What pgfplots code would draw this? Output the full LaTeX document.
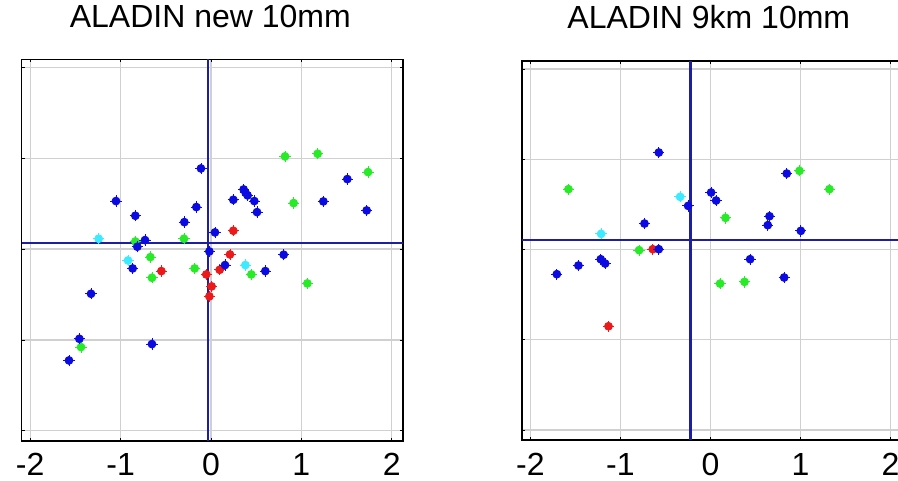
\documentclass[border=0pt]{standalone}
\usepackage{pgfplots}
\pgfplotsset{compat=1.18}
\usepackage{pgfplotstable}
\usepackage{fontspec}
\setmainfont{Liberation Sans}

\definecolor{ptblue}{RGB}{10,10,225}
\definecolor{ptgreen}{RGB}{40,235,40}
\definecolor{ptcyan}{RGB}{60,235,255}
\definecolor{ptred}{RGB}{235,25,25}
\definecolor{navyline}{RGB}{30,30,160}
\definecolor{gridgray}{RGB}{208,208,208}

% filled dot with a small cross through it
\pgfdeclareplotmark{dotplus}{%
  \pgfpathcircle{\pgfpoint{0pt}{0pt}}{\pgfplotmarksize}%
  \pgfusepathqfillstroke
  \pgfpathmoveto{\pgfpoint{-1.45\pgfplotmarksize}{0pt}}%
  \pgfpathlineto{\pgfpoint{1.45\pgfplotmarksize}{0pt}}%
  \pgfpathmoveto{\pgfpoint{0pt}{-1.45\pgfplotmarksize}}%
  \pgfpathlineto{\pgfpoint{0pt}{1.45\pgfplotmarksize}}%
  \pgfusepathqstroke}

% ---- ALADIN new 10mm ----
\pgfplotstableread{
x y
-0.111 0.888
-1.051 0.529
-0.837 0.367
-0.730 0.099
-0.815 0.026
-0.867 -0.213
-0.295 0.297
-0.162 0.463
0.044 0.184
-0.018 -0.026
0.247 0.543
0.361 0.657
0.383 0.620
0.405 0.591
0.479 0.529
0.509 0.407
0.155 -0.176
0.601 -0.242
0.804 -0.062
1.243 0.525
1.508 0.771
1.722 0.426
-1.327 -0.492
-1.456 -0.988
-1.571 -1.226
-0.653 -1.046
}\newblue
\pgfplotstableread{
x y
0.819 1.021
1.180 1.050
1.737 0.848
0.914 0.507
-0.299 0.114
-0.837 0.084
-0.671 -0.088
-0.653 -0.316
-0.181 -0.213
0.446 -0.279
1.066 -0.378
-1.438 -1.079
}\newgreen
\pgfplotstableread{
x y
-1.243 0.114
-0.918 -0.125
0.380 -0.176
}\newcyan
\pgfplotstableread{
x y
0.247 0.202
0.210 -0.059
-0.549 -0.242
0.096 -0.228
-0.052 -0.279
0.007 -0.411
-0.018 -0.521
}\newred

% ---- ALADIN 9km 10mm ----
\pgfplotstableread{
x y
-0.574 1.075
0.848 0.842
0.007 0.632
0.063 0.543
-0.248 0.484
-0.733 0.288
0.656 0.369
0.637 0.270
1.004 0.207
-0.574 0.004
0.441 -0.107
0.819 -0.310
-1.219 -0.107
-1.170 -0.155
-1.467 -0.177
-1.707 -0.273
}\kmblue
\pgfplotstableread{
x y
-1.578 0.669
0.989 0.872
1.322 0.669
0.167 0.351
-0.793 -0.007
0.107 -0.377
0.378 -0.358
}\kmgreen
\pgfplotstableread{
x y
-0.337 0.584
-1.215 0.174
}\kmcyan
\pgfplotstableread{
x y
-0.641 0.004
-1.133 -0.850
}\kmred

\pgfplotsset{
  panel/.style={
    scale only axis,
    anchor=south west,
    xmin=-2.094, xmax=2.124,
    ymin=-2.11, ymax=2.09,
    xtick={-2,-1,0,1,2},
    xticklabels={-2,-1,0,1,2},
    ytick={-2,-1,0,1,2},
    yticklabels={},
    tick align=inside,
    major tick length=3pt,
    tick style={black, line width=0.8pt},
    xtick pos=both, ytick pos=both,
    grid=major,
    major grid style={gridgray, line width=1.3pt},
    axis line style={black, line width=1.6pt},
    xticklabel style={anchor=base, yshift=-35pt, text depth=0pt,
      font=\fontsize{32}{34}\selectfont},
    title style={anchor=base, yshift=26pt,
      font=\fontsize{32}{38}\selectfont},
    clip=true,
  },
  pts/.style={only marks, mark=dotplus, mark size=3.9pt, line width=0.9pt,
    draw=#1, fill=#1},
  crossline/.style={draw=navyline, line width=2.1pt, mark=none},
}

\begin{document}
\begin{tikzpicture}
\begin{axis}[panel,
  at={(21.7pt,-440.7pt)}, width=381.3pt, height=381.4pt,
  title={ALADIN new 10mm}, title style={xshift=-2pt}]
  \addplot[crossline] coordinates {(-0.036,-2.11) (-0.036,2.09)};
  \addplot[crossline] coordinates {(-2.094,0.063) (2.124,0.063)};
  \addplot[pts=ptred] table {\newred};
  \addplot[pts=ptgreen] table {\newgreen};
  \addplot[pts=ptcyan] table {\newcyan};
  \addplot[pts=ptblue] table {\newblue};
\end{axis}
\begin{axis}[panel,
  at={(522.0pt,-440pt)}, width=379.6pt, height=379.1pt,
  title={ALADIN 9km 10mm}, title style={xshift=-3pt}]
  \addplot[crossline] coordinates {(-0.222,-2.11) (-0.222,2.09)};
  \addplot[crossline] coordinates {(-2.094,0.103) (2.124,0.103)};
  \addplot[pts=ptred] table {\kmred};
  \addplot[pts=ptgreen] table {\kmgreen};
  \addplot[pts=ptcyan] table {\kmcyan};
  \addplot[pts=ptblue] table {\kmblue};
\end{axis}
\pgfresetboundingbox
\path[use as bounding box] (0pt,0pt) rectangle (898pt,-481pt);
\end{tikzpicture}
\end{document}
